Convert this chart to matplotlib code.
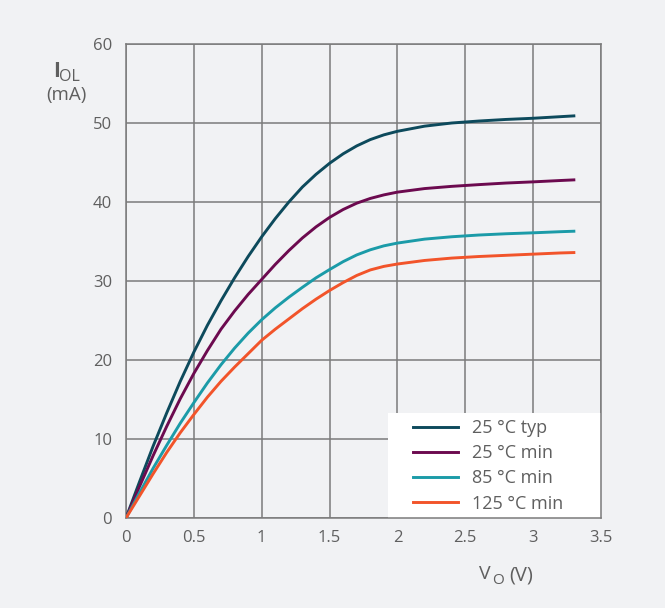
import matplotlib
matplotlib.use('Agg')
import matplotlib.pyplot as plt
from matplotlib.patches import Rectangle

# output voltage (V)
vo = [0, 0.1, 0.2, 0.3, 0.4, 0.5, 0.6, 0.7, 0.8, 0.9, 1.0,
      1.1, 1.2, 1.3, 1.4, 1.5, 1.6, 1.7, 1.8, 1.9, 2.0,
      2.2, 2.4, 2.6, 2.8, 3.0, 3.2, 3.3]

# I_OL (mA)
iol_25_typ = [0, 4.6, 9.1, 13.3, 17.3, 21.0, 24.4, 27.5, 30.4, 33.1, 35.6,
              37.9, 40.0, 41.9, 43.5, 44.9, 46.1, 47.1, 47.9, 48.5, 48.95,
              49.6, 50.0, 50.25, 50.45, 50.6, 50.8, 50.9]
iol_25_min = [0, 4.0, 7.9, 11.6, 15.1, 18.3, 21.2, 23.9, 26.2, 28.3, 30.2,
              32.1, 33.85, 35.45, 36.85, 38.05, 39.05, 39.85, 40.45, 40.9, 41.25,
              41.7, 41.98, 42.2, 42.4, 42.55, 42.72, 42.8]
iol_85_min = [0, 3.2, 6.3, 9.2, 12.0, 14.6, 17.1, 19.4, 21.5, 23.4, 25.1,
              26.6, 27.95, 29.2, 30.4, 31.45, 32.45, 33.3, 33.95, 34.45, 34.8,
              35.3, 35.6, 35.82, 35.98, 36.1, 36.24, 36.3]
iol_125_min = [0, 2.8, 5.6, 8.3, 10.8, 13.1, 15.3, 17.3, 19.1, 20.8, 22.5,
               23.9, 25.2, 26.5, 27.7, 28.8, 29.8, 30.7, 31.4, 31.85, 32.15,
               32.6, 32.9, 33.1, 33.25, 33.4, 33.55, 33.6]

labels = ['25 °C typ', '25 °C min', '85 °C min', '125 °C min']
colors = ['#0d4a5c', '#6c0a4f', '#1b9ba8', '#f2542a']

xticks = [0, 0.5, 1, 1.5, 2, 2.5, 3, 3.5]
xticklabels = ['0', '0.5', '1', '1.5', '2', '2.5', '3', '3.5']
yticks = [0, 10, 20, 30, 40, 50, 60]

BG = '#f1f2f4'
GRID = '#7b7b7b'
TXT = '#5f5f5f'

plt.rcParams['font.family'] = ['Open Sans', 'DejaVu Sans']

fig = plt.figure(figsize=(6.65, 6.08), dpi=100, facecolor=BG)
ax = fig.add_axes([126 / 665, 1 - 518 / 608, 475 / 665, 474 / 608])
ax.set_facecolor(BG)

series = [iol_25_typ, iol_25_min, iol_85_min, iol_125_min]
for ys, lab, c in zip(series, labels, colors):
    ax.plot(vo, ys, color=c, lw=2.1, label=lab, zorder=3)

ax.set_xlim(0, 3.5)
ax.set_ylim(0, 60)
ax.set_xticks(xticks)
ax.set_xticklabels(xticklabels)
ax.set_yticks(yticks)
ax.grid(True, color=GRID, lw=1.1)
ax.set_axisbelow(True)
for s in ax.spines.values():
    s.set_color(GRID)
    s.set_linewidth(1.1)
ax.tick_params(length=0, labelsize=12, labelcolor=TXT)
ax.tick_params(axis='y', pad=10)
ax.tick_params(axis='x', pad=9)

# white legend panel in the lower right corner
ax.add_patch(Rectangle((262 / 475, 0), 1 - 262 / 475, 105 / 474,
                       transform=ax.transAxes, facecolor='white',
                       edgecolor='none', zorder=2.5))
leg = ax.legend(loc='upper left', bbox_to_anchor=(287 / 475, 99 / 474),
                fontsize=13, frameon=False, borderaxespad=0, borderpad=0,
                handlelength=2.5, handletextpad=0.75, labelspacing=0.4,
                labelcolor=TXT)
leg.set_zorder(4)

# axis labels
fig.text(53 / 665, 1 - 77 / 608, 'I', fontsize=15, fontweight='bold',
         color=TXT, ha='left', va='baseline')
fig.text(59.5 / 665, 1 - 81 / 608, 'OL', fontsize=11.5, color=TXT,
         ha='left', va='baseline')
fig.text(66 / 665, 1 - 100 / 608, '(mA)', fontsize=13.5, color=TXT,
         ha='center', va='baseline')

fig.text(479 / 665, 1 - 579 / 608, 'V', fontsize=14, color=TXT,
         ha='left', va='baseline')
fig.text(492 / 665, 1 - 584 / 608, 'O', fontsize=11, color=TXT,
         ha='left', va='baseline')
fig.text(509 / 665, 1 - 580 / 608, '(V)', fontsize=14.5, color=TXT,
         ha='left', va='baseline')

fig.savefig('out.png', dpi=100, facecolor=BG)
